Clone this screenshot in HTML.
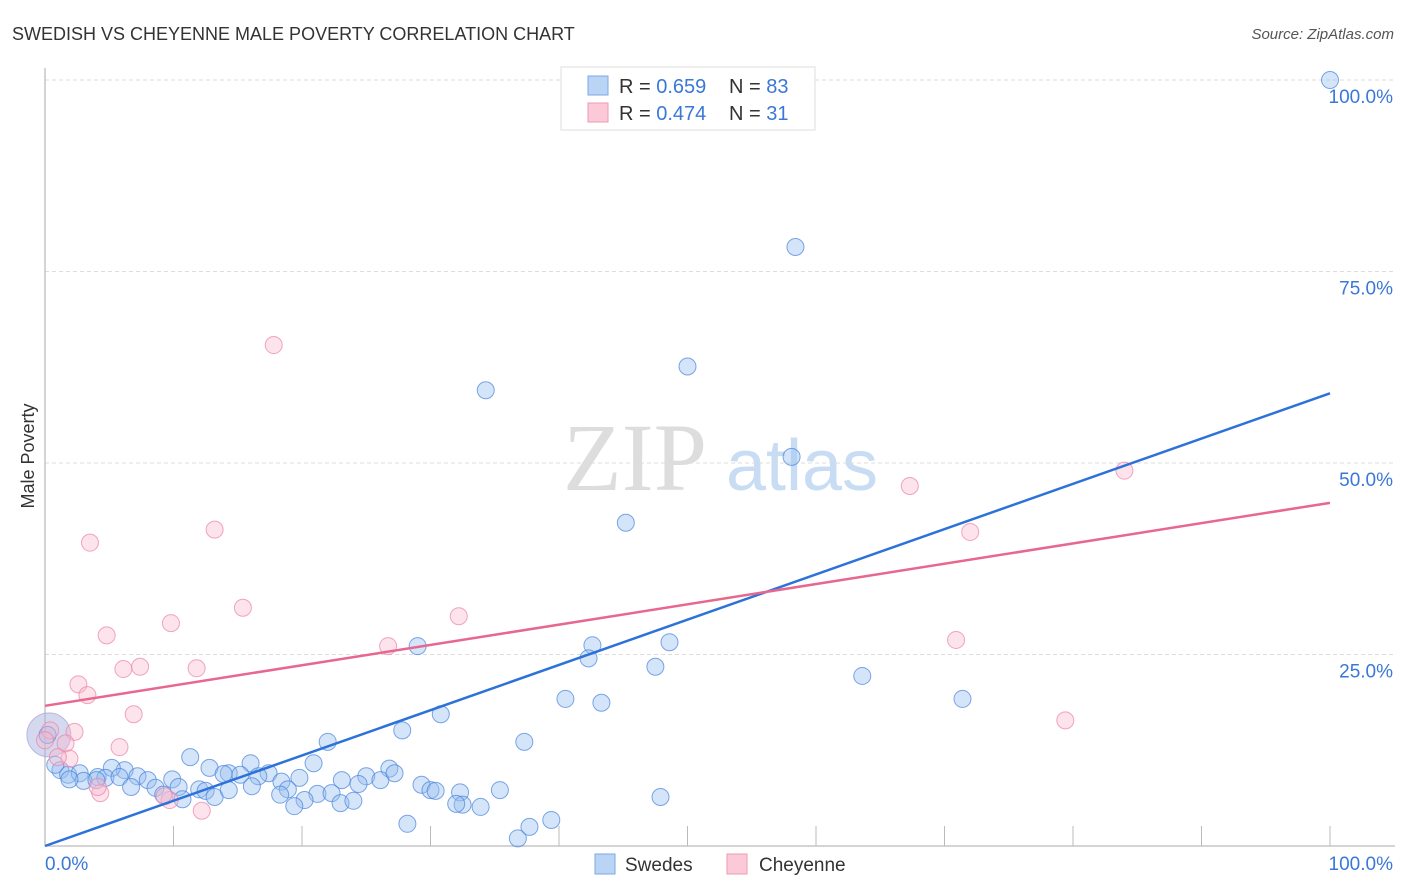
<!DOCTYPE html>
<html><head><meta charset="utf-8"><style>
body{margin:0;background:#fff;font-family:"Liberation Sans",sans-serif;}
svg{display:block}
</style></head><body>
<svg width="1406" height="892" id="chart">
<text x="12" y="40" font-size="18" fill="#333">SWEDISH VS CHEYENNE MALE POVERTY CORRELATION CHART</text>
<text x="1394" y="39" font-size="15" fill="#555" font-style="italic" text-anchor="end">Source: ZipAtlas.com</text>
<text x="635" y="490" font-size="96" fill="#ddd" font-family="Liberation Serif,serif" text-anchor="middle">ZIP</text>
<text x="802" y="490" font-size="72" fill="#c8dcf3" text-anchor="middle">atlas</text>
<text transform="translate(34,456) rotate(-90)" font-size="18" fill="#333" text-anchor="middle">Male Poverty</text>
<g id="grid"></g><g id="pts"></g><g id="lines"></g>
<g>
<rect x="561" y="67" width="254" height="63" fill="#fff" stroke="#ddd"/>
<rect x="588" y="76" width="20" height="19" fill="#b9d4f5" stroke="#7aaae6"/>
<rect x="588" y="103" width="20" height="19" fill="#fbc9d7" stroke="#ee9ab3"/>
<text x="619" y="93" font-size="20" fill="#333">R = <tspan fill="#3a78d8">0.659</tspan>  <tspan x="729">N = </tspan><tspan fill="#3a78d8">83</tspan></text>
<text x="619" y="120" font-size="20" fill="#333">R = <tspan fill="#3a78d8">0.474</tspan>  <tspan x="729">N = </tspan><tspan fill="#3a78d8"> 31</tspan></text>
</g>
<g>
<rect x="595" y="854" width="20" height="20" fill="#b9d4f5" stroke="#7aaae6"/>
<text x="625" y="871" font-size="19" fill="#333">Swedes</text>
<rect x="727" y="854" width="20" height="20" fill="#fbc9d7" stroke="#ee9ab3"/>
<text x="759" y="871" font-size="19" fill="#333">Cheyenne</text>
</g>
</svg>
<script>
const blueX=[100,58.4,50.0,34.3,58.1,45.2,29.0,42.6,48.6,42.3,47.5,63.6,71.4,40.5,43.3,30.8,27.8,37.3,22.0,11.3,20.9,16.0,26.8,17.4,12.8,14.3,15.2,6.2,5.2,1.2,1.8,2.7,4.1,4.7,5.8,7.2,8.0,9.9,6.7,8.6,10.4,12.0,13.9,16.6,18.4,19.8,25.0,26.1,27.2,23.1,24.4,29.3,30.0,32.3,32.5,30.4,35.4,21.2,22.3,18.9,18.3,20.2,19.4,23.0,24.0,16.1,12.5,10.7,13.2,14.3,28.2,32.0,33.9,36.8,37.7,39.4,47.9,9.2,3.0,4.0,0.8,0.2,1.9];
const blueY=[100,78.2,62.6,59.5,50.8,42.2,26.1,26.2,26.6,24.5,23.4,22.2,19.2,19.2,18.7,17.2,15.1,13.6,13.6,11.6,10.8,10.8,10.1,9.5,10.2,9.5,9.3,9.9,10.2,9.9,9.3,9.5,9.0,8.9,9.0,9.1,8.6,8.7,7.7,7.6,7.7,7.4,9.4,9.1,8.4,8.9,9.1,8.6,9.5,8.6,8.1,8.0,7.3,7.0,5.4,7.2,7.3,6.8,6.9,7.4,6.7,6.0,5.2,5.6,5.9,7.8,7.2,6.1,6.4,7.3,2.9,5.5,5.1,1.0,2.5,3.4,6.4,6.7,8.5,8.6,10.6,14.5,8.7];
const pinkX=[17.8,3.5,13.2,15.4,9.8,4.8,32.2,26.7,7.4,6.1,11.8,2.6,3.3,6.9,2.3,5.8,1.6,1.9,67.3,84.0,72.0,70.9,79.4,4.3,4.1,9.7,12.2,9.3,0.4,1.0,0];
const pinkY=[65.4,39.6,41.3,31.1,29.1,27.5,30.0,26.1,23.4,23.1,23.2,21.1,19.7,17.2,14.9,12.9,13.4,11.4,47.0,49.0,41.0,26.9,16.4,6.9,7.7,6.0,4.6,6.5,15.1,11.6,13.8];
const blueTrend=[0,59.1];
const pinkTrend=[18.3,44.8];
const yTicks=[25,50,75,100];
const yTickLabels=["25.0%","50.0%","75.0%","100.0%"];
const xTickVals=[10,20,30,40,50,60,70,80,90,100];

const NS="http://www.w3.org/2000/svg";
const sx=v=>45+v*12.85, sy=v=>846-v*7.66;
function mk(tag,attrs,parent){const e=document.createElementNS(NS,tag);for(const k in attrs)e.setAttribute(k,attrs[k]);parent.appendChild(e);return e;}
const grid=document.getElementById('grid');
yTicks.forEach((t,i)=>{
  const l=mk('line',{x1:45,x2:1395,y1:sy(t),y2:sy(t),stroke:'#ddd','stroke-dasharray':'4,3'},grid);
  
  
  const tx=mk('text',{x:1393,y:sy(t)+23,'font-size':19,fill:'#3a78d8','text-anchor':'end'},grid);
  tx.textContent=yTickLabels[i];
  
  
});
let a=mk('line',{x1:45,x2:45,y1:68,y2:846,stroke:'#aaa'},grid);


a=mk('line',{x1:45,x2:1395,y1:846,y2:846,stroke:'#aaa'},grid);


xTickVals.forEach(t=>{
  const l=mk('line',{x1:sx(t),x2:sx(t),y1:826,y2:846,stroke:'#bbb'},grid);
  
  
});
let t0=mk('text',{x:45,y:870,'font-size':19,fill:'#3a78d8'},grid);t0.textContent='0.0%';


let t1=mk('text',{x:1393,y:870,'font-size':19,fill:'#3a78d8','text-anchor':'end'},grid);t1.textContent='100.0%';



const pts=document.getElementById('pts');
let big=mk('circle',{cx:sx(0.3),cy:sy(14.5),r:22,fill:'rgba(170,180,225,0.5)',stroke:'rgba(160,150,210,0.6)'},pts);


blueX.forEach((x,i)=>{
  const c=mk('circle',{cx:sx(x),cy:sy(blueY[i]),r:8.5,fill:'rgba(150,190,240,0.4)',stroke:'rgba(70,130,220,0.7)','stroke-width':1},pts);
  
  
});
pinkX.forEach((x,i)=>{
  const c=mk('circle',{cx:sx(x),cy:sy(pinkY[i]),r:8.5,fill:'rgba(250,185,205,0.4)',stroke:'rgba(235,130,165,0.7)','stroke-width':1},pts);
  
  
});
const lines=document.getElementById('lines');
let bl=mk('line',{x1:sx(0),y1:sy(blueTrend[0]),x2:sx(100),y2:sy(blueTrend[1]),stroke:'#2d72d9','stroke-width':2.5},lines);


let pl=mk('line',{x1:sx(0),y1:sy(pinkTrend[0]),x2:sx(100),y2:sy(pinkTrend[1]),stroke:'#e8678f','stroke-width':2.5},lines);


</script>
</body></html>
